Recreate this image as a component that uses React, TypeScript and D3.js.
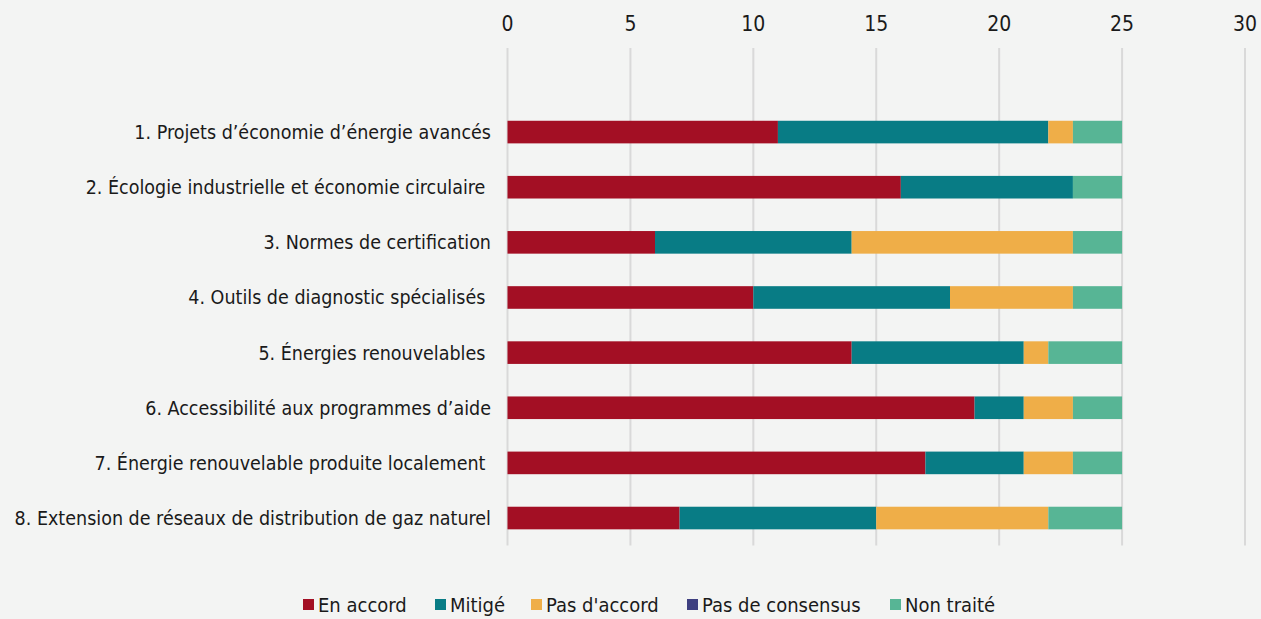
import React from "react";
import * as d3 from "d3";

const categories = [
  "1. Projets d\u2019économie d\u2019énergie avancés",
  "2. Écologie industrielle et économie circulaire ",
  "3. Normes de certification",
  "4. Outils de diagnostic spécialisés ",
  "5. Énergies renouvelables ",
  "6. Accessibilité aux programmes d\u2019aide",
  "7. Énergie renouvelable produite localement ",
  "8. Extension de réseaux de distribution de gaz naturel",
];
const seriesNames = ["En accord", "Mitigé", "Pas d'accord", "Pas de consensus", "Non traité"];
const enAccord = [11, 16, 6, 10, 14, 19, 17, 7];
const mitige = [11, 7, 8, 8, 7, 2, 4, 8];
const pasAccord = [1, 0, 9, 5, 1, 2, 2, 7];
const pasConsensus = [0, 0, 0, 0, 0, 0, 0, 0];
const nonTraite = [2, 2, 2, 2, 3, 2, 2, 3];
const xTicks = [0, 5, 10, 15, 20, 25, 30];

const colors = ["#a30f24", "#087c85", "#efae48", "#3e3f80", "#57b595"];
const FONT = "'DejaVu Sans Condensed', 'Liberation Sans Narrow', 'Roboto', sans-serif";

export default function App() {
  const W = 1261, H = 619;
  const x = d3.scaleLinear().domain([0, 30]).range([507.5, 1245]);
  const y = d3.scaleBand<string>().domain(categories).range([104.5, 545.6]).paddingInner(0.59).paddingOuter(0.295);
  const rows = categories.map((c, i) => ({
    cat: c,
    s0: enAccord[i], s1: mitige[i], s2: pasAccord[i], s3: pasConsensus[i], s4: nonTraite[i],
  }));
  const stack = d3.stack<any>().keys(["s0", "s1", "s2", "s3", "s4"]);
  const layers = stack(rows);
  const legendX = [303, 435, 531, 687, 890];

  return (
    <svg width={W} height={H} style={{ position: "absolute", left: 0, top: 0, background: "#f3f4f3" }} fontFamily={FONT}>
      <rect width={W} height={H} fill="#f3f4f3" />
      {xTicks.map((t) => (
        <g key={t}>
          <line x1={x(t)} x2={x(t)} y1={48} y2={545.6} stroke="#d9d9d9" strokeWidth={2} />
          <text x={x(t)} y={31} textAnchor="middle" fontSize={21} fill="#1a1a1a">{t}</text>
        </g>
      ))}
      {layers.map((layer, li) =>
        layer.map((d, i) => (
          d[1] - d[0] > 0 ? (
            <rect key={li + "-" + i} x={x(d[0])} y={y(categories[i])} width={x(d[1]) - x(d[0])} height={y.bandwidth()} fill={colors[li]} />
          ) : null
        ))
      )}
      {categories.map((c) => (
        <text key={c} x={491} y={(y(c) as number) + y.bandwidth() / 2 + 7} textAnchor="end" fontSize={19.5} fill="#1a1a1a" style={{ whiteSpace: "pre" }}>{c}</text>
      ))}
      {seriesNames.map((s, i) => (
        <g key={s}>
          <rect x={legendX[i]} y={599} width={11} height={11} fill={colors[i]} />
          <text x={legendX[i] + 15} y={612} fontSize={20} fill="#1a1a1a">{s}</text>
        </g>
      ))}
    </svg>
  );
}
